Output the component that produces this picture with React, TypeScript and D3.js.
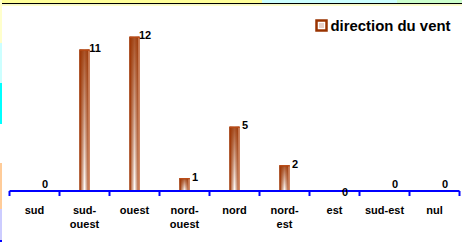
import React from "react";
import * as d3 from "d3";

const categories = ["sud", "sud-ouest", "ouest", "nord-ouest", "nord", "nord-est", "est", "sud-est", "nul"];
const values = [0, 11, 12, 1, 5, 2, 0, 0, 0];
const seriesName = "direction du vent";
const W = 462, H = 242;

const left = 9.5, right = 459.5, baseY = 191, topY = 11;

export default function App() {
  const x = d3.scaleBand<string>().domain(categories).range([left, right]).padding(0);
  const y = d3.scaleLinear().domain([0, 14]).range([baseY, topY]);
  const barW = 10;
  const font = "'Liberation Sans', Arial, sans-serif";
  const brown = "#993300";
  const ticks = d3.range(categories.length + 1).map((i) => left + i * x.bandwidth());

  return (
    <svg width={W} height={H} style={{ position: "absolute", left: 0, top: 0, display: "block" }}>
      <defs>
        <linearGradient id="gh" x1="0" x2="1" y1="0" y2="0">
          <stop offset="0" stopColor={brown} />
          <stop offset="0.5" stopColor="#ffffff" />
          <stop offset="1" stopColor={brown} />
        </linearGradient>
        <linearGradient id="gv" x1="0" x2="0" y1="0" y2="1">
          <stop offset="0" stopColor={brown} stopOpacity={0.85} />
          <stop offset="1" stopColor={brown} stopOpacity={0} />
        </linearGradient>
      </defs>
      <rect x={0} y={0} width={W} height={H} fill="#ffffff" />
      {/* top strip */}
      <rect x={0} y={0} width={262} height={3} fill="#ffff99" />
      <rect x={262} y={0} width={135} height={3} fill="#ccffff" />
      <rect x={397} y={0} width={65} height={3} fill="#ccffcc" />
      <rect x={0} y={3} width={W} height={1.2} fill="#000000" />
      <rect x={0} y={4.2} width={W} height={1.8} fill="#ffffcc" />
      {/* left strip */}
      <rect x={0} y={0} width={2} height={43} fill="#ffffcc" />
      <rect x={0} y={43} width={2} height={40} fill="#ccffff" />
      <rect x={0} y={83} width={2} height={41} fill="#00ffff" />
      <rect x={0} y={163} width={2} height={46} fill="#ffcc99" />
      <rect x={0} y={209} width={2} height={31} fill="#ccccff" />
      <rect x={0} y={240} width={2} height={2} fill="#0000ff" />

      {/* bars */}
      {categories.map((c, i) => {
        const v = values[i];
        if (v <= 0) return null;
        const cx = (x(c) as number) + x.bandwidth() / 2;
        const bx = cx - barW / 2;
        const by = y(v);
        const bh = baseY - by;
        return (
          <g key={c}>
            <rect x={bx} y={by} width={barW} height={bh} fill="url(#gh)" />
            <rect x={bx} y={by} width={barW} height={bh} fill="url(#gv)" />
            <rect x={bx + 0.5} y={by + 0.5} width={barW - 1} height={bh - 0.5} fill="none" stroke="#a33a0a" strokeWidth={1} />
            <line x1={bx + barW - 0.5} x2={bx + barW - 0.5} y1={by + 1} y2={baseY} stroke="#e8b090" strokeWidth={1} />
            <line x1={bx} x2={bx + barW} y1={by + 0.5} y2={by + 0.5} stroke="#c0501a" strokeWidth={1} />
          </g>
        );
      })}

      {/* axis */}
      <line x1={left} x2={right} y1={baseY} y2={baseY} stroke="#0000ff" strokeWidth={2} />
      {ticks.map((t, i) => (
        <line key={i} x1={t} x2={t} y1={baseY} y2={baseY + 5} stroke="#0000ff" strokeWidth={2} />
      ))}

      {/* value labels */}
      {categories.map((c, i) => {
        const v = values[i];
        const cx = (x(c) as number) + x.bandwidth() / 2;
        let ly = v > 0 ? y(v) + 2.5 : baseY - 3.5;
        if (c === "est") ly = baseY + 5;
        return (
          <text key={c} x={cx + 10.5} y={ly} textAnchor="middle" fontFamily={font} fontWeight="bold" fontSize={11} fill="#000">
            {v}
          </text>
        );
      })}

      {/* category labels */}
      {categories.map((c) => {
        const cx = (x(c) as number) + x.bandwidth() / 2;
        const parts = c === "sud-est" ? [c] : c.includes("-") ? [c.split("-")[0] + "-", c.split("-")[1]] : [c];
        return (
          <text key={c} textAnchor="middle" fontFamily={font} fontWeight="bold" fontSize={11} fill="#000">
            {parts.map((p, j) => (
              <tspan key={j} x={cx} y={213.5 + j * 14}>{p}</tspan>
            ))}
          </text>
        );
      })}

      {/* legend */}
      <rect x={316.5} y={20.5} width={10} height={10} fill="#ffffff" stroke={brown} strokeWidth={2.5} />
      <rect x={319} y={23} width={5} height={5} fill="#e8d0c8" />
      <text x={330.5} y={30.5} fontFamily={font} fontWeight="bold" fontSize={14.9} fill="#000">{seriesName}</text>
    </svg>
  );
}
